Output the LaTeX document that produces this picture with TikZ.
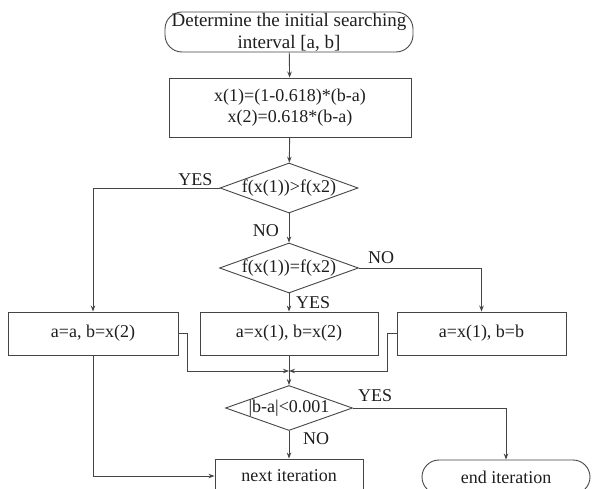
\documentclass[tikz,border=0pt]{standalone}
\usepackage{fontspec}
\setmainfont{Liberation Serif}
\usetikzlibrary{shapes.geometric,arrows.meta,calc}
\definecolor{linec}{HTML}{454545}
\definecolor{txtc}{HTML}{1E1E1E}
\begin{document}
\begin{tikzpicture}[x=1pt,y=-1pt,
  font=\fontsize{18}{21}\selectfont,
  every node/.style={text=txtc},
  box/.style={draw=linec,line width=0.9pt,rectangle,inner sep=0pt,align=center},
  term/.style={box,rounded corners=17pt},
  dia/.style={draw=linec,line width=0.9pt,diamond,inner sep=0pt},
  flow/.style={draw=linec,line width=0.9pt,-{Stealth[length=6pt,width=4.5pt]}},
  lbl/.style={inner sep=0pt,text=txtc}]
\useasboundingbox (0,0) rectangle (592,489);
\clip (0,0) rectangle (592,489);
% nodes
\node[term,minimum width=248pt,minimum height=40pt,font=\fontsize{19}{22}\selectfont] (start) at (289,32)
  {Determine the initial searching\\interval [a, b]};
\node[box,minimum width=242pt,minimum height=59pt] (calc) at (290,107.5)
  {x(1)=(1-0.618)*(b-a)\\x(2)=0.618*(b-a)};
\node[dia,minimum width=138pt,minimum height=50pt] (d1) at (289,188) {};
\node[lbl] at (d1) {f(x(1))>f(x2)};
\node[dia,minimum width=139pt,minimum height=50pt] (d2) at (289,268) {};
\node[lbl] at (d2) {f(x(1))=f(x2)};
\node[box,minimum width=170pt,minimum height=43pt] (bl) at (93,333.5) {a=a, b=x(2)};
\node[box,minimum width=178pt,minimum height=43pt] (bm) at (289,333.5) {a=x(1), b=x(2)};
\node[box,minimum width=169pt,minimum height=43pt] (br) at (481.5,333.5) {a=x(1), b=b};
\node[dia,minimum width=127pt,minimum height=45pt] (d3) at (289,408) {};
\node[lbl] at (d3) {|b-a|<0.001};
\node[box,minimum width=148pt,minimum height=34pt] (next) at (289,476) {next iteration};
\node[term,minimum width=168pt,minimum height=34pt] (end) at (506,477) {end iteration};
\coordinate (m) at (289,371);
% connectors
\draw[flow] (start) -- (calc);
\draw[flow] (calc) -- (d1);
\draw[flow] (d1.west) -| (bl.north);
\node[lbl,anchor=base east] at ([xshift=-7pt,yshift=2pt]d1.west) {YES};
\draw[flow] (d1) -- (d2);
\node[lbl,anchor=base east] at ([xshift=-10pt,yshift=-23pt]d1.south) {NO};
\draw[flow] (d2.east) -| (br.north);
\node[lbl,anchor=base west] at ([xshift=9pt,yshift=4pt]d2.east) {NO};
\draw[flow] (d2) -- (bm);
\node[lbl,anchor=base west] at ([xshift=7pt,yshift=-15pt]d2.south) {YES};
\draw[flow] (bl.east) -- ++(9,0) |- (m);
\draw[flow] (br.west) -- ++(-9,0) |- (m);
\draw[flow] (bm) -- (d3);
\draw[flow] (d3.east) -| (end.north);
\node[lbl,anchor=base west] at ([xshift=5pt,yshift=7pt]d3.east) {YES};
\draw[flow] (d3) -- (next);
\node[lbl,anchor=base west] at ([xshift=14pt,yshift=-14pt]d3.south) {NO};
\draw[flow] (bl.south) |- (next.west);
\end{tikzpicture}
\end{document}
